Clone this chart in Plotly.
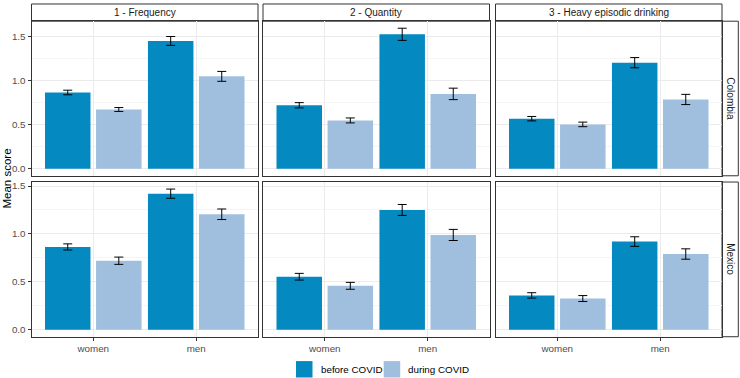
import plotly.graph_objects as go

measures = ["1 - Frequency", "2 - Quantity", "3 - Heavy episodic drinking"]
countries = ["Colombia", "Mexico"]
genders = ["women", "men"]
periods = ["before COVID", "during COVID"]
colors = ["#0589C1", "#A0BFDF"]

# mean scores, ordered by measure (Frequency, Quantity, Heavy episodic drinking)
colombia_before_women = [0.865, 0.720, 0.568]
colombia_before_men = [1.450, 1.525, 1.203]
colombia_during_women = [0.672, 0.548, 0.503]
colombia_during_men = [1.048, 0.849, 0.786]
mexico_before_women = [0.864, 0.553, 0.358]
mexico_before_men = [1.420, 1.250, 0.920]
mexico_during_women = [0.720, 0.458, 0.325]
mexico_during_men = [1.205, 0.989, 0.790]

# error bar half-widths
colombia_before_women_err = [0.026, 0.030, 0.025]
colombia_before_men_err = [0.050, 0.069, 0.058]
colombia_during_women_err = [0.022, 0.028, 0.026]
colombia_during_men_err = [0.056, 0.065, 0.058]
mexico_before_women_err = [0.032, 0.035, 0.028]
mexico_before_men_err = [0.048, 0.057, 0.050]
mexico_during_women_err = [0.038, 0.036, 0.031]
mexico_during_men_err = [0.055, 0.058, 0.054]

data = {
    ("Colombia", 0): (colombia_before_women, colombia_before_men,
                      colombia_before_women_err, colombia_before_men_err),
    ("Colombia", 1): (colombia_during_women, colombia_during_men,
                      colombia_during_women_err, colombia_during_men_err),
    ("Mexico", 0): (mexico_before_women, mexico_before_men,
                    mexico_before_women_err, mexico_before_men_err),
    ("Mexico", 1): (mexico_during_women, mexico_during_men,
                    mexico_during_women_err, mexico_during_men_err),
}

W, H = 740, 378
FONT = "Liberation Sans, Arial, sans-serif"
col_px = [(31.5, 258.0), (263.0, 489.5), (495.5, 722.0)]
row_px = [(19.3, 174.7), (181.0, 336.5)]
strip_top = 2.0
strip_right = 738.3


def px_x(v):
    return v / W


def px_y(v):
    return 1 - v / H


fig = go.Figure()
layout = {}

for r, country in enumerate(countries):
    row_max = 0
    for p in range(2):
        bw, bm, ew, em = data[(country, p)]
        for i in range(3):
            row_max = max(row_max, bw[i] + ew[i], bm[i] + em[i])
    yr = [-0.05 * row_max, 1.05 * row_max]
    for c, measure in enumerate(measures):
        idx = r * 3 + c + 1
        xa = "x" if idx == 1 else f"x{idx}"
        ya = "y" if idx == 1 else f"y{idx}"
        for p in range(2):
            bw, bm, ew, em = data[(country, p)]
            fig.add_trace(go.Bar(
                x=genders, y=[bw[c], bm[c]],
                error_y=dict(type="data", array=[ew[c], em[c]], color="black",
                             thickness=1, width=4.5),
                marker=dict(color=colors[p], line=dict(width=0)),
                name=periods[p], showlegend=False,
                xaxis=xa, yaxis=ya,
            ))
        x0, x1 = col_px[c]
        y0, y1 = row_px[r]
        layout["xaxis" if idx == 1 else f"xaxis{idx}"] = dict(
            domain=[px_x(x0), px_x(x1)], anchor=ya, type="category",
            categoryorder="array", categoryarray=genders,
            range=[-0.6, 1.6], showgrid=True, gridcolor="#EBEBEB", gridwidth=1,
            showline=True, mirror=True, linecolor="#333333", linewidth=1,
            zeroline=False,
            ticks="outside" if r == 1 else "", ticklen=3, tickcolor="#333333",
            showticklabels=(r == 1),
            tickfont=dict(family=FONT, size=9.8, color="#4D4D4D"),
        )
        layout["yaxis" if idx == 1 else f"yaxis{idx}"] = dict(
            domain=[px_y(y1), px_y(y0)], anchor=xa, range=yr,
            tick0=0, dtick=0.5, tickformat=".1f",
            showgrid=True, gridcolor="#EBEBEB", gridwidth=1,
            minor=dict(tick0=0, dtick=0.25, showgrid=True, gridcolor="#F5F5F5",
                       gridwidth=0.6, ticks=""),
            showline=True, mirror=True, linecolor="#333333", linewidth=1,
            zeroline=False,
            ticks="outside" if c == 0 else "", ticklen=3, tickcolor="#333333",
            showticklabels=(c == 0),
            tickfont=dict(family=FONT, size=9.8, color="#4D4D4D"),
        )

shapes = []
annotations = []
# top strips
for c, measure in enumerate(measures):
    x0, x1 = col_px[c]
    shapes.append(dict(type="rect", xref="paper", yref="paper",
                       x0=px_x(x0), x1=px_x(x1), y0=px_y(row_px[0][0]), y1=px_y(strip_top),
                       fillcolor="white", line=dict(color="#333333", width=1), layer="below"))
    annotations.append(dict(text=measure, xref="paper", yref="paper",
                            x=px_x((x0 + x1) / 2), y=px_y((strip_top + row_px[0][0]) / 2),
                            showarrow=False, xanchor="center", yanchor="middle",
                            font=dict(family=FONT, size=10, color="#1A1A1A")))
# right strips
for r, country in enumerate(countries):
    y0, y1 = row_px[r]
    shapes.append(dict(type="rect", xref="paper", yref="paper",
                       x0=px_x(col_px[2][1]), x1=px_x(strip_right), y0=px_y(y1), y1=px_y(y0),
                       fillcolor="white", line=dict(color="#333333", width=1), layer="below"))
    annotations.append(dict(text=country, xref="paper", yref="paper",
                            x=px_x((col_px[2][1] + strip_right) / 2), y=px_y((y0 + y1) / 2),
                            showarrow=False, textangle=90, xanchor="center", yanchor="middle",
                            font=dict(family=FONT, size=10, color="#1A1A1A")))

# y title
annotations.append(dict(text="Mean score", xref="paper", yref="paper",
                        x=px_x(7.5), y=px_y(178), showarrow=False, textangle=-90,
                        xanchor="center", yanchor="middle",
                        font=dict(family=FONT, size=11.5, color="black")))

# legend (drawn)
legend_items = [(296.0, periods[0]), (383.7, periods[1])]
for p, (sx, label) in enumerate(legend_items):
    shapes.append(dict(type="rect", xref="paper", yref="paper",
                       x0=px_x(sx), x1=px_x(sx + 16.5), y0=px_y(377.5), y1=px_y(361),
                       fillcolor=colors[p], line=dict(width=0)))
    annotations.append(dict(text=label, xref="paper", yref="paper",
                            x=px_x(sx + 22.5), y=px_y(369.5), showarrow=False,
                            xanchor="left", yanchor="middle",
                            font=dict(family=FONT, size=9.8, color="black")))

layout.update(dict(
    width=W, height=H, margin=dict(l=0, r=0, t=0, b=0),
    paper_bgcolor="white", plot_bgcolor="white",
    barmode="group", bargap=0.008, bargroupgap=0.109,
    showlegend=False, shapes=shapes, annotations=annotations,
    font=dict(family=FONT),
))
fig.update_layout(**layout)
fig.write_html("out.html", config={"displayModeBar": False})

# remove the default page margin so the figure fills the 740x378 window exactly
with open("out.html", encoding="utf-8") as f:
    html = f.read()
html = html.replace("<head>", "<head><style>html,body{margin:0;padding:0;overflow:hidden;}</style>", 1)
with open("out.html", "w", encoding="utf-8") as f:
    f.write(html)
